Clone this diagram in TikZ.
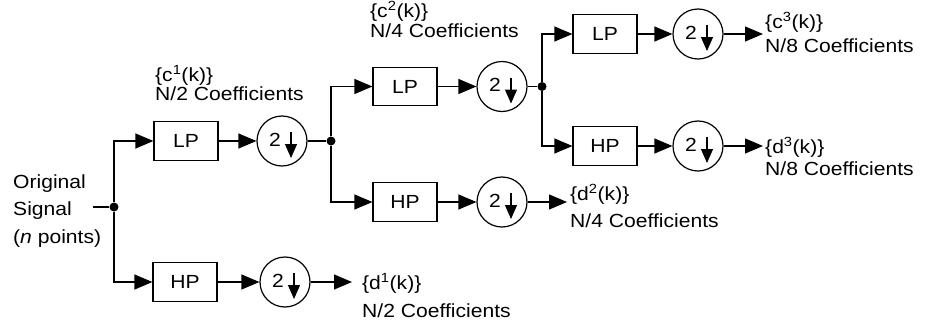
\documentclass[tikz,border=0pt]{standalone}
\usepackage{fontspec}
\setmainfont{Liberation Sans}[FakeStretch=1.11]
\usetikzlibrary{arrows.meta,calc}
\begin{document}
\begin{tikzpicture}[x=1pt,y=-1pt,
  every node/.style={font=\fontsize{19pt}{22pt}\selectfont},
  lw/.style={line width=1.2pt},
  box/.style={draw,line width=1.2pt,minimum width=64pt,minimum height=38.5pt,inner sep=0pt},
  dsc/.style={draw,circle,line width=1.2pt,minimum size=50pt,inner sep=0pt},
  dot/.style={circle,fill,minimum size=9pt,inner sep=0pt},
  arr/.style={line width=1.2pt,-{Triangle[length=18pt,width=15pt]}},
  txt/.style={anchor=base west,inner sep=0pt}]
\useasboundingbox (0,0) rectangle (930,324);

% nodes
\node[dot] (j0) at (114,207) {};
\node[box] (lp1) at (186,141) {LP};
\node[box] (hp1) at (185,282) {HP};
\node[dsc] (s1) at (282,141) {};
\node[dsc] (s4) at (285,282) {};
\node[dot] (j1) at (331,141) {};
\node[box] (lp2) at (405,86.5) {LP};
\node[box] (hp2) at (405,202) {HP};
\node[dsc] (s2) at (502,86.5) {};
\node[dsc] (s5) at (502,202) {};
\node[dot] (j2) at (542,86.5) {};
\node[box] (lp3) at (605,34) {LP};
\node[box] (hp3) at (605,146) {HP};
\node[dsc] (s3) at (698,34) {};
\node[dsc] (s6) at (698,146) {};
\coordinate (in) at (93,207);
\coordinate (o1) at (352,282);
\coordinate (o2) at (567,202);
\coordinate (o3) at (763,34);
\coordinate (o4) at (763,146);

% downsampler symbols
\foreach \s in {s1,s2,s3,s4,s5,s6} {
  \node[inner sep=0pt] at ($(\s)+(-7,-1.5)$) {2};
  \draw[line width=1.2pt,-{Triangle[length=14pt,width=12pt]}] ($(\s)+(9,-9)$) -- ($(\s)+(9,17)$);
}

% connectors
\draw[lw] (in) -- (j0);
\draw[arr] (j0) |- (lp1);
\draw[arr] (j0) |- (hp1);
\draw[arr] (lp1) -- (s1);
\draw[arr] (hp1) -- (s4);
\draw[lw] (s1) -- (j1);
\draw[arr] (s4) -- (o1);
\draw[arr] (j1) |- (lp2);
\draw[arr] (j1) |- (hp2);
\draw[arr] (lp2) -- (s2);
\draw[arr] (hp2) -- (s5);
\draw[lw] (s2) -- (j2);
\draw[arr] (s5) -- (o2);
\draw[arr] (j2) |- (lp3);
\draw[arr] (j2) |- (hp3);
\draw[arr] (lp3) -- (s3);
\draw[arr] (hp3) -- (s6);
\draw[arr] (s3) -- (o3);
\draw[arr] (s6) -- (o4);

% labels
\node[txt] (t1) at (13,188) {Original};
\node[txt] (t2) at (13,215) {Signal};
\node[txt] (t3) at (13,243) {(\textit{n} points)};
\node[txt] (c1a) at (155,81) {\{c\textsuperscript{1}(k)\}};
\node[txt] (c1b) at (155,100) {N/2 Coefficients};
\node[txt] (c2a) at (370,17) {\{c\textsuperscript{2}(k)\}};
\node[txt] (c2b) at (370,37) {N/4 Coefficients};
\node[txt] (c3a) at (765,28) {\{c\textsuperscript{3}(k)\}};
\node[txt] (c3b) at (765,52) {N/8 Coefficients};
\node[txt] (d3a) at (765,153) {\{d\textsuperscript{3}(k)\}};
\node[txt] (d3b) at (765,175) {N/8 Coefficients};
\node[txt] (d2a) at (570,200) {\{d\textsuperscript{2}(k)\}};
\node[txt] (d2b) at (570,227) {N/4 Coefficients};
\node[txt] (d1a) at (362,289) {\{d\textsuperscript{1}(k)\}};
\node[txt] (d1b) at (362,317) {N/2 Coefficients};
\end{tikzpicture}
\end{document}
